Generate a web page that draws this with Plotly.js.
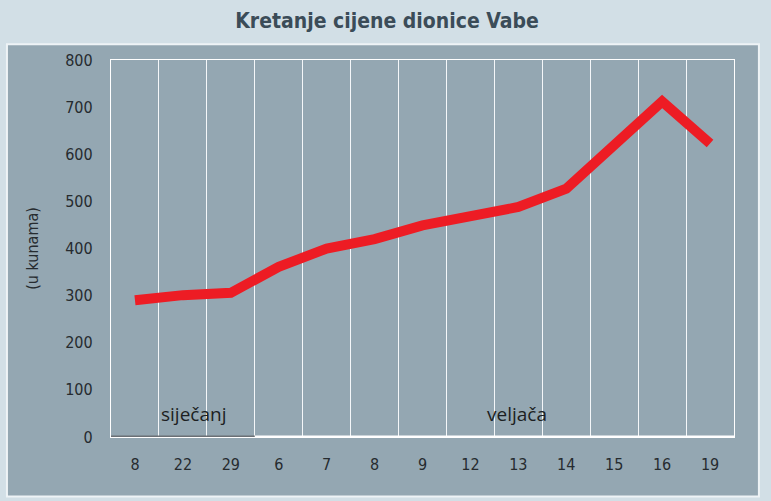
<!DOCTYPE html>
<html>
<head>
<meta charset="utf-8">
<script src="https://cdn.plot.ly/plotly-3.0.1.min.js"></script>
<style>
  html, body { margin: 0; padding: 0; background: #d2dfe6; }
  #chart { width: 771px; height: 501px; }
</style>
</head>
<body>
<div id="chart"></div>
<script>
// dani trgovanja (siječanj: 8, 22, 29; veljača: ostalo)
let days = ['8', '22', '29', '6', '7', '8', '9', '12', '13', '14', '15', '16', '19'];
let prices = [290, 301, 306, 361, 400, 420, 449, 468, 488, 527, 620, 712, 623];
let months = ['siječanj', 'veljača'];
let yTicks = [0, 100, 200, 300, 400, 500, 600, 700, 800];

let idx = days.map(function(d, i) { return i; });

let narrow = '"Liberation Sans Narrow", "DejaVu Sans Condensed", sans-serif';

let trace = {
  x: idx,
  y: prices,
  mode: 'lines',
  line: { color: '#ed1c24', width: 10 },
  hoverinfo: 'skip'
};

function getLayout() {
  return {
    width: 771,
    height: 501,
    paper_bgcolor: '#d2dfe6',
    plot_bgcolor: 'rgba(0,0,0,0)',
    showlegend: false,
    margin: { l: 111, r: 37, t: 60, b: 64 },
    title: {
      text: '<b>Kretanje cijene dionice Vabe</b>',
      x: 0.502,
      xref: 'container',
      xanchor: 'center',
      y: 0.958,
      yanchor: 'middle',
      font: { family: narrow, size: 21, color: '#3b4c58' }
    },
    xaxis: {
      range: [-0.5, idx.length - 0.5],
      tickvals: idx,
      ticktext: days,
      showgrid: false,
      zeroline: false,
      showline: true,
      mirror: true,
      linecolor: '#ffffff',
      linewidth: 1.2,
      ticks: 'outside',
      ticklen: 13,
      tickcolor: 'rgba(0,0,0,0)',
      tickfont: { family: narrow, size: 16, color: '#262b2f' },
      minor: {
        tick0: 0.5,
        dtick: 1,
        showgrid: true,
        gridcolor: '#f4f7f9',
        gridwidth: 1.1,
        ticks: ''
      },
      fixedrange: true
    },
    yaxis: {
      range: [0, 800],
      tickvals: yTicks,
      showgrid: false,
      zeroline: false,
      showline: true,
      mirror: true,
      linecolor: '#ffffff',
      linewidth: 1.2,
      ticks: 'outside',
      ticklen: 14,
      tickcolor: 'rgba(0,0,0,0)',
      tickfont: { family: narrow, size: 16, color: '#262b2f' },
      title: {
        text: '(u kunama)',
        standoff: 22,
        font: { family: narrow, size: 16, color: '#262b2f' }
      },
      fixedrange: true
    },
    shapes: [
      // panel
      {
        type: 'rect', xref: 'paper', yref: 'paper', layer: 'below',
        x0: -0.167, x1: 1.04, y0: -0.158, y1: 1.042,
        fillcolor: '#94a7b2',
        line: { color: '#eef3f6', width: 2 }
      },
      // donja linija: siječanj tamna, veljača bijela
      {
        type: 'line', xref: 'x', yref: 'y', layer: 'above',
        x0: 2.5, x1: idx.length - 0.5, y0: 0, y1: 0,
        line: { color: '#ffffff', width: 3 }
      },
      {
        type: 'line', xref: 'x', yref: 'y', layer: 'above',
        x0: -0.5, x1: 2.5, y0: 0, y1: 0,
        line: { color: '#6b7075', width: 3 }
      }
    ],
    annotations: [
      {
        xref: 'x', yref: 'y', x: 1.22, y: 48,
        text: months[0], showarrow: false,
        xanchor: 'center', yanchor: 'middle',
        font: { family: '"Open Sans", "Noto Sans", sans-serif', size: 19, color: '#1c1f22' }
      },
      {
        xref: 'x', yref: 'y', x: 7.98, y: 48,
        text: months[1], showarrow: false,
        xanchor: 'center', yanchor: 'middle',
        font: { family: '"Open Sans", "Noto Sans", sans-serif', size: 19, color: '#1c1f22' }
      }
    ]
  };
}

let opts = {
  displayModeBar: false,
  staticPlot: true
};

Plotly.newPlot('chart', [trace], getLayout(), opts);
</script>
</body>
</html>
